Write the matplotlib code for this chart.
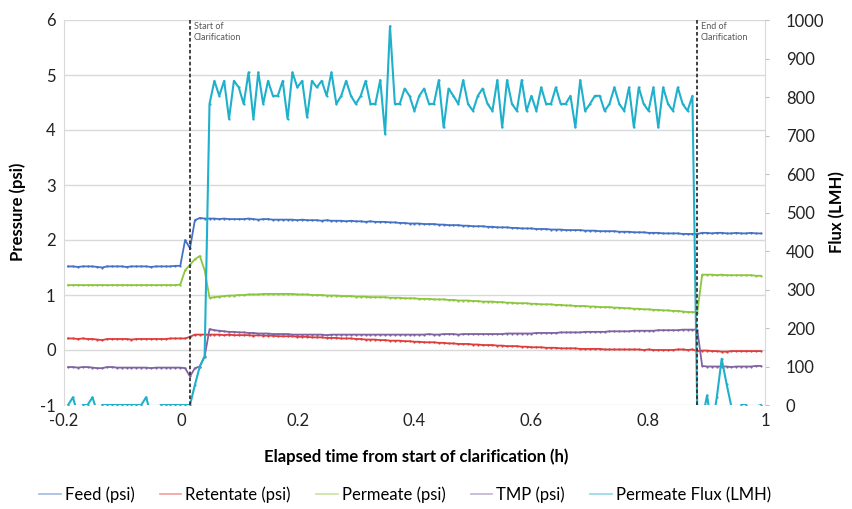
import matplotlib
matplotlib.use('Agg')
import matplotlib.pyplot as plt
from matplotlib.lines import Line2D
import numpy as np

plt.rcParams['font.family'] = ['Lato', 'DejaVu Sans']
plt.rcParams['axes.unicode_minus'] = False

# sampling: one reading every ~30 s, start / end of clarification in hours
t_start = 0.0157
t_end = 0.884
dt = 0.00835
k = np.arange(-25, 118)
time_h = t_start + dt * k

feed = [1.52, 1.52, 1.51, 1.52, 1.52, 1.52, 1.51, 1.50, 1.52, 1.52, 1.52, 1.52, 1.51, 1.52,
        1.52, 1.52, 1.52, 1.51, 1.52, 1.52, 1.52, 1.52, 1.53, 1.53, 2.00,
        1.85, 2.36, 2.40, 2.39, 2.39, 2.39, 2.38, 2.39, 2.38, 2.38,
        2.38, 2.38, 2.39, 2.38, 2.37, 2.38, 2.38, 2.37, 2.37, 2.37,
        2.37, 2.37, 2.36, 2.37, 2.36, 2.36, 2.36, 2.35, 2.36, 2.35,
        2.35, 2.35, 2.34, 2.35, 2.34, 2.34, 2.33, 2.34, 2.33, 2.33,
        2.33, 2.32, 2.32, 2.31, 2.31, 2.30, 2.30, 2.30, 2.29, 2.29,
        2.29, 2.28, 2.28, 2.27, 2.27, 2.27, 2.26, 2.26, 2.25, 2.25,
        2.25, 2.24, 2.24, 2.23, 2.23, 2.23, 2.22, 2.22, 2.21, 2.21,
        2.21, 2.20, 2.20, 2.20, 2.19, 2.19, 2.19, 2.18, 2.18, 2.18,
        2.18, 2.17, 2.17, 2.17, 2.16, 2.16, 2.16, 2.16, 2.15, 2.15,
        2.15, 2.14, 2.14, 2.14, 2.13, 2.13, 2.13, 2.12, 2.12, 2.12,
        2.12, 2.11, 2.11, 2.11, 2.11,
        2.13, 2.13, 2.12, 2.13, 2.13, 2.12, 2.12, 2.13, 2.12, 2.12, 2.13, 2.12, 2.12]

retentate = [0.21, 0.21, 0.20, 0.21, 0.20, 0.20, 0.19, 0.18, 0.20, 0.20, 0.20, 0.20, 0.20, 0.19,
             0.20, 0.20, 0.20, 0.20, 0.20, 0.20, 0.20, 0.21, 0.21, 0.21, 0.21,
             0.24, 0.28, 0.28, 0.28, 0.28, 0.28, 0.28, 0.27, 0.28, 0.27,
             0.27, 0.27, 0.27, 0.26, 0.27, 0.26, 0.26, 0.26, 0.25, 0.25,
             0.25, 0.25, 0.24, 0.24, 0.24, 0.23, 0.23, 0.23, 0.22, 0.22,
             0.22, 0.21, 0.21, 0.21, 0.20, 0.20, 0.19, 0.19, 0.19, 0.18,
             0.18, 0.17, 0.17, 0.17, 0.16, 0.16, 0.15, 0.15, 0.14, 0.14,
             0.14, 0.13, 0.13, 0.12, 0.12, 0.11, 0.11, 0.11, 0.10, 0.10,
             0.09, 0.09, 0.09, 0.08, 0.08, 0.07, 0.07, 0.07, 0.06, 0.06,
             0.05, 0.05, 0.05, 0.04, 0.04, 0.04, 0.03, 0.03, 0.03, 0.03,
             0.02, 0.02, 0.02, 0.02, 0.02, 0.01, 0.01, 0.01, 0.01, 0.01,
             0.01, 0.01, 0.01, 0.00, 0.01, 0.00, 0.00, 0.00, 0.00, 0.00,
             0.01, 0.01, 0.00, 0.01, -0.02,
             -0.01, -0.01, -0.02, -0.02, -0.03, -0.03, -0.02, -0.02, -0.02, -0.02, -0.02, -0.02, -0.02]

permeate = [1.18] * 23 + [1.19, 1.45,
            1.55, 1.65, 1.71, 1.45, 0.95, 0.96, 0.97, 0.98, 0.99, 0.99,
            1.00, 1.00, 1.01, 1.01, 1.01, 1.02, 1.02, 1.02, 1.02, 1.02,
            1.02, 1.02, 1.01, 1.01, 1.01, 1.00, 1.00, 1.00, 0.99, 0.99,
            0.99, 0.98, 0.98, 0.98, 0.97, 0.97, 0.97, 0.96, 0.96, 0.96,
            0.96, 0.95, 0.95, 0.95, 0.94, 0.94, 0.94, 0.93, 0.93, 0.93,
            0.92, 0.92, 0.92, 0.91, 0.91, 0.90, 0.90, 0.90, 0.89, 0.89,
            0.88, 0.88, 0.88, 0.87, 0.87, 0.86, 0.86, 0.85, 0.85, 0.85,
            0.84, 0.84, 0.83, 0.83, 0.83, 0.82, 0.82, 0.81, 0.81, 0.80,
            0.80, 0.80, 0.79, 0.79, 0.78, 0.78, 0.78, 0.77, 0.77, 0.76,
            0.76, 0.75, 0.75, 0.74, 0.74, 0.73, 0.73, 0.72, 0.72, 0.71,
            0.71, 0.70, 0.69, 0.69, 0.68,
            1.37, 1.37, 1.37, 1.36, 1.37, 1.36, 1.36, 1.36, 1.36, 1.36, 1.36, 1.35, 1.35]

tmp = [-0.31, -0.31, -0.32, -0.31, -0.31, -0.32, -0.33, -0.33, -0.31, -0.31, -0.32, -0.32,
       -0.32, -0.32, -0.32, -0.32, -0.32, -0.33, -0.32, -0.32, -0.32, -0.32, -0.32, -0.32, -0.33,
       -0.48, -0.33, -0.30, -0.12, 0.38, 0.36, 0.35, 0.34, 0.33, 0.33,
       0.32, 0.32, 0.31, 0.31, 0.30, 0.30, 0.30, 0.29, 0.29, 0.29,
       0.29, 0.28, 0.28, 0.28, 0.28, 0.28, 0.28, 0.28, 0.27, 0.28,
       0.28, 0.28, 0.28, 0.28, 0.28, 0.28, 0.28, 0.28, 0.28, 0.28,
       0.28, 0.28, 0.28, 0.28, 0.28, 0.28, 0.28, 0.28, 0.28, 0.29,
       0.28, 0.28, 0.29, 0.29, 0.29, 0.28, 0.29, 0.29, 0.29, 0.29,
       0.29, 0.29, 0.29, 0.29, 0.29, 0.30, 0.30, 0.30, 0.30, 0.30,
       0.30, 0.31, 0.31, 0.31, 0.31, 0.31, 0.32, 0.32, 0.32, 0.32,
       0.32, 0.33, 0.33, 0.33, 0.33, 0.33, 0.34, 0.34, 0.34, 0.34,
       0.34, 0.35, 0.35, 0.35, 0.35, 0.35, 0.36, 0.36, 0.36, 0.36,
       0.36, 0.37, 0.37, 0.37, 0.37,
       -0.29, -0.30, -0.30, -0.30, -0.30, -0.30, -0.31, -0.30, -0.30, -0.30, -0.30, -0.29, -0.29]

flux = [0, 20, -25, 0, 0, 20, -20, 0, 0, 0, 0, 0, 0, 0, 0, 0, 20, -25, -10, 0, 0, 0, 0, 0, 0,
        0, 52, 100, 127, 782, 842, 803, 842, 743, 842,
        825, 782, 864, 743, 864, 782, 842, 803, 803, 842,
        743, 864, 825, 842, 747, 842, 825, 842, 803, 864,
        782, 803, 842, 803, 782, 803, 842, 782, 782, 844,
        704, 984, 782, 782, 822, 803, 764, 803, 822, 782,
        782, 844, 721, 822, 803, 782, 844, 782, 764, 803,
        822, 782, 764, 844, 721, 844, 782, 764, 844, 764,
        803, 764, 825, 782, 782, 825, 782, 782, 803, 721,
        844, 764, 782, 803, 803, 764, 782, 825, 782, 764,
        825, 721, 825, 782, 764, 825, 721, 825, 782, 764,
        825, 782, 764, 803, -20,
        -40, 25, -60, 20, 120, 55, -5, -20, 0, 0, -15, -5, 0]

x_ticks = [-0.2, 0, 0.2, 0.4, 0.6, 0.8, 1.0]
x_tick_labels = ['-0.2', '0', '0.2', '0.4', '0.6', '0.8', '1']

colors = {'feed': '#4472C4', 'ret': '#E03C3C', 'perm': '#8CC63F',
          'tmp': '#8064A2', 'flux': '#1FB0CC'}

fig = plt.figure(figsize=(8.53, 5.09), dpi=100)
ax = fig.add_axes([64 / 853, 1 - 405 / 509, 701 / 853, 385 / 509])
ax2 = ax.twinx()

ax.set_xlim(-0.2, 1.0)
ax.set_ylim(-1, 6)
ax2.set_ylim(0, 1000)

ax.set_yticks(range(-1, 7))
ax.grid(True, axis='y', color='#d9d9d9', linewidth=1)
ax.set_axisbelow(True)
ax.set_xticks(x_ticks)
ax.set_xticklabels(x_tick_labels)
ax2.set_yticks(range(0, 1001, 100))

for a in (ax, ax2):
    for s in a.spines.values():
        s.set_visible(False)
ax.spines['left'].set_visible(True)
ax.spines['left'].set_color('#d9d9d9')
ax2.spines['right'].set_visible(True)
ax2.spines['right'].set_color('#d9d9d9')

ax.tick_params(axis='both', length=0, labelsize=12, colors='#222222', pad=6)
ax2.tick_params(axis='y', length=3, color='#bfbfbf', labelsize=12, labelcolor='#222222', pad=12)

series = [(feed, colors['feed']), (retentate, colors['ret']),
          (permeate, colors['perm']), (tmp, colors['tmp'])]
for vals, c in series:
    ax.plot(time_h, vals, '-', color=c, linewidth=1.3, marker='o', markersize=1.6,
            markeredgewidth=0, zorder=3)

ax2.plot(time_h, flux, '-', color=colors['flux'], linewidth=1.5, marker='o', markersize=1.6,
         markeredgewidth=0, zorder=3)

# start / end markers
for tx, label in [(t_start, 'Start of\nClarification'), (t_end, 'End of\nClarification')]:
    ax2.axvline(tx, color='#333333', linewidth=1.3, linestyle=(0, (2, 1.3)), zorder=5)
    ax.text(tx + 0.006, 5.97, label, fontsize=6.5, color='#595959', va='top', ha='left',
            linespacing=1.3, zorder=6)

fig.text(18 / 853, 1 - 212 / 509, 'Pressure (psi)', rotation=90, ha='center', va='center',
         fontsize=12, fontweight='bold')
fig.text(837 / 853, 1 - 212 / 509, 'Flux (LMH)', rotation=90, ha='center', va='center',
         fontsize=12, fontweight='bold')
fig.text(416 / 853, 1 - 457 / 509, 'Elapsed time from start of clarification (h)',
         ha='center', va='center', fontsize=12, fontweight='bold')

names = ['Feed (psi)', 'Retentate (psi)', 'Permeate (psi)', 'TMP (psi)', 'Permeate Flux (LMH)']
handles = [Line2D([], [], color=c, linewidth=1.3, alpha=0.45)
           for c in [colors['feed'], colors['ret'], colors['perm'], colors['tmp'], colors['flux']]]
fig.legend(handles, names, loc='center', bbox_to_anchor=(405 / 853, 1 - 495 / 509), ncol=5,
           frameon=False, fontsize=12, handlelength=1.3, handletextpad=0.25, columnspacing=1.5)

fig.savefig('out.png', dpi=100)
